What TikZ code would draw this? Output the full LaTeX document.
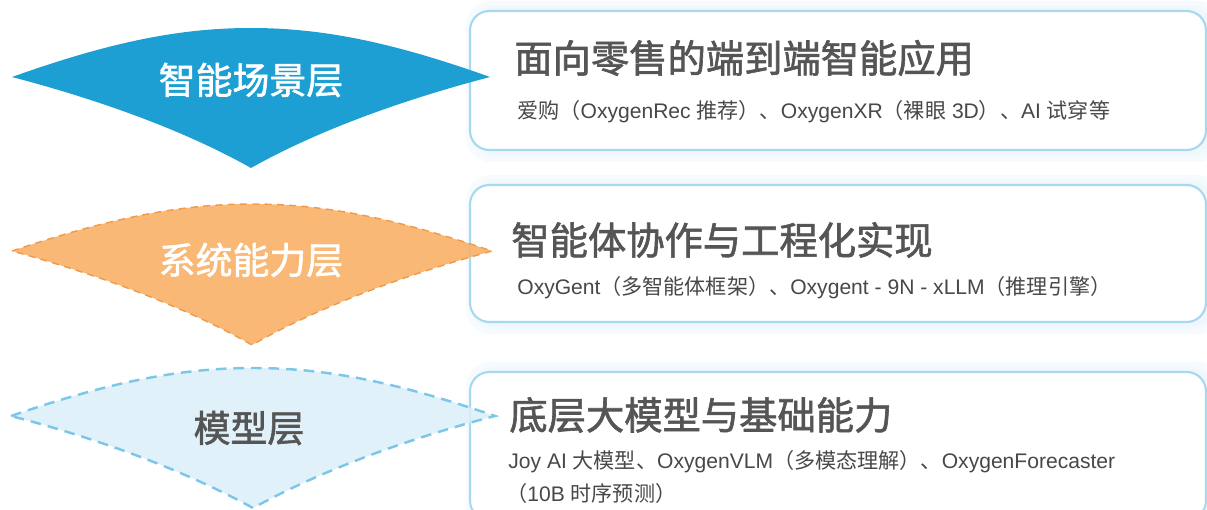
\documentclass[tikz,border=0pt]{standalone}
\usepackage{fontspec}
\setmainfont{Liberation Sans}
\newfontfamily\cjk{Noto Sans CJK SC}
\newfontfamily\cjkmed{Noto Sans CJK SC}[FakeBold=1.6]
\newcommand\zh[1]{{\cjk #1}}
\definecolor{topblue}{HTML}{1E9FD3}
\definecolor{midorange}{HTML}{F8B26A}
\definecolor{midorangeline}{HTML}{F09A48}
\definecolor{lowfill}{HTML}{DCEFF8}
\definecolor{lowline}{HTML}{7CC6E8}
\definecolor{boxline}{HTML}{A6D8EF}
\definecolor{glow}{HTML}{E3F1F9}
\definecolor{titlegray}{HTML}{555555}
\definecolor{subgray}{HTML}{484848}
\tikzset{
  cardbox/.style={draw=boxline, line width=1.2pt, fill=white, rounded corners=11pt},
  glowbox/.style={fill=glow, opacity=0.25, rounded corners=14pt},
  layerlabel/.style={font=\cjkmed\fontsize{21}{24}\selectfont, inner sep=0pt},
  cardtitle/.style={font=\cjkmed\fontsize{21.8}{24}\selectfont, text=titlegray, anchor=west, inner sep=0pt},
  cardsub/.style={font=\fontsize{12}{14}\selectfont, text=subgray, anchor=west, inner sep=0pt},
}
\begin{document}
\begin{tikzpicture}[x=0.02cm, y=-0.02cm]
\useasboundingbox (0,0) rectangle (1207,510);
\clip (0,0) rectangle (1207,510);
% glow behind cards
\foreach \d in {3,6,10}{
  \fill[glowbox] (476-\d,11-\d) rectangle (1212+\d,152+\d);
  \fill[glowbox] (476-\d,185-\d) rectangle (1212+\d,324+\d);
  \fill[glowbox] (476-\d,372-\d) rectangle (1212+\d,520+\d);
}
% cards
\draw[cardbox] (470,11) rectangle (1206,150);
\draw[cardbox] (470,185) rectangle (1206,322);
\draw[cardbox] (470,372) rectangle (1206,520);

% layer shapes
\fill[topblue]
  (12,77) .. controls (110,42) and (180,28) .. (251,28)
  .. controls (322,28) and (392,42) .. (490,77)
  .. controls (410,98) and (322,128) .. (251,168)
  .. controls (180,128) and (92,98) .. (12,77) -- cycle;
\filldraw[fill=midorange, fill opacity=0.92, draw=midorangeline, dash pattern=on 4pt off 3pt, line width=0.8pt]
  (12,251) .. controls (110,218) and (180,204) .. (252,204)
  .. controls (324,204) and (394,218) .. (492,251)
  .. controls (412,273) and (324,304) .. (252,345)
  .. controls (180,304) and (92,273) .. (12,251) -- cycle;
\filldraw[fill=lowfill, fill opacity=0.85, draw=lowline, dash pattern=on 6pt off 4pt, line width=1.4pt]
  (11,416) .. controls (110,382) and (180,368) .. (253,368)
  .. controls (326,368) and (396,382) .. (495,416)
  .. controls (414,437) and (326,468) .. (253,508)
  .. controls (180,468) and (92,437) .. (11,416) -- cycle;

\node[layerlabel, text=white] (l1) at (251,80) {智能场景层};
\node[layerlabel, text=white] (l2) at (251,260) {系统能力层};
\node[layerlabel, text=titlegray] (l3) at (249,428) {模型层};

% card texts
\node[cardtitle] (t1) at (514,58) {面向零售的端到端智能应用};
\node[cardsub] (s1) at (517,112) {\zh{爱购（}OxygenRec \zh{推荐）、}OxygenXR\zh{（裸眼} 3D\zh{）、}AI \zh{试穿等}};

\node[cardtitle] (t2) at (511,240) {智能体协作与工程化实现};
\node[cardsub] (s2) at (517,288) {OxyGent\zh{（多智能体框架）、}Oxygent - 9N - xLLM\zh{（推理引擎）}};

\node[cardtitle] (t3) at (509,415) {底层大模型与基础能力};
\node[cardsub] (s3) at (508,462) {Joy AI \zh{大模型、}OxygenVLM\zh{（多模态理解）、}OxygenForecaster};
\node[cardsub] (s4) at (506,493) {\zh{（}10B \zh{时序预测）}};
\end{tikzpicture}
\end{document}
